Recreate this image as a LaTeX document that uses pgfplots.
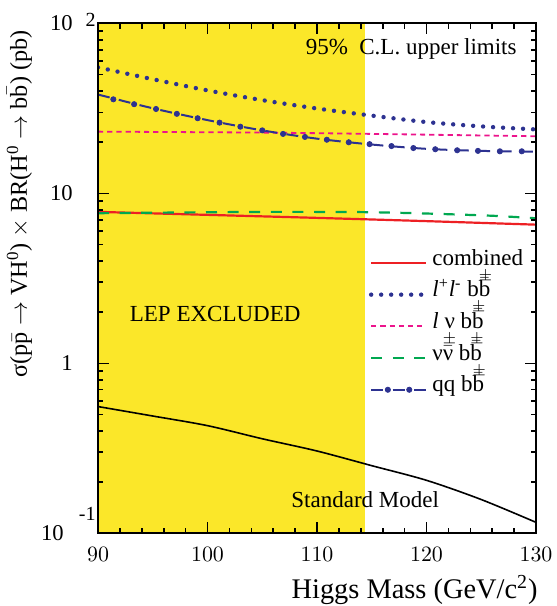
\documentclass[border=0pt]{standalone}
\usepackage{fontspec}
\setmainfont{Liberation Serif}
\usepackage{amsmath}
\usepackage{pgfplots}
\pgfplotsset{compat=1.18}

\definecolor{lepyellow}{RGB}{251,231,41}
\definecolor{cdfred}{RGB}{237,32,36}
\definecolor{cdfblue}{RGB}{45,50,145}
\definecolor{cdfpink}{RGB}{236,20,140}
\definecolor{cdfgreen}{RGB}{0,168,80}

% b bbar with a small +- sitting on the bar
\newcommand{\pmover}[1]{\makebox[0pt][l]{\raisebox{0.72em}[0pt][0pt]{\fontsize{8}{8}\selectfont$\pm$}}$\bar{\text{#1}}$}
\newcommand{\bpm}{b\pmover{b}}
\newcommand{\smallfont}{\fontsize{11.5}{13}\selectfont}

\begin{document}
\begin{tikzpicture}
\begin{axis}[
    scale only axis,
    width=219pt, height=254.9pt,
    ymode=log,
    xmin=90, xmax=130, ymin=0.1, ymax=100,
    xtick={90,100,110,120,130},
    minor xtick={92,94,96,98,102,104,106,108,112,114,116,118,122,124,126,128},
    ytick={0.1,1,10,100},
    yticklabels={
        10\makebox[16pt][r]{\raisebox{10pt}[0pt][0pt]{\fontsize{10}{10}\selectfont -1}},
        1\makebox[11.5pt]{},
        10\makebox[11.5pt]{},
        10\makebox[11.5pt][r]{\raisebox{2pt}[0pt][0pt]{\fontsize{10}{10}\selectfont 2}}},
    minor ytick={0.2,0.3,0.4,0.5,0.6,0.7,0.8,0.9,2,3,4,5,6,7,8,9,20,30,40,50,60,70,80,90},
    tick align=inside,
    major tick length=5.5pt, minor tick length=2.7pt,
    every outer x axis line/.append style={line width=1pt},
    every outer y axis line/.append style={line width=1pt},
    tick style={black, line width=0.8pt},
    axis on top,
    ticklabel style={font=\fontsize{11.3}{13}\selectfont},
    xticklabel style={yshift=-3.5pt},
    yticklabel style={inner xsep=1pt},
    xlabel={Higgs Mass (GeV/c\textsuperscript{2})},
    xlabel style={font=\fontsize{14.2}{16}\selectfont, at={(rel axis cs:1,0)}, anchor=north east, inner sep=0pt, yshift=-20.8pt, xshift=1pt},
    ylabel={σ(p$\bar{\text{p}}$ $\rightarrow$ VH\textsuperscript{0}) $\times$ BR(H\textsuperscript{0} $\rightarrow$ b$\bar{\text{b}}$) (pb)},
    ylabel style={font=\fontsize{12.1}{14}\selectfont, at={(ticklabel cs:1)}, anchor=south east},
    legend cell align=left,
    legend style={draw=none, fill=none, at={(rel axis cs:0.604,0.57)}, anchor=north west,
        font=\smallfont, nodes={text height=9pt, text depth=6.85pt, inner ysep=0pt}},
    legend image code/.code={\draw[#1] (0pt,0pt) -- (27.5pt,0pt);},
]
% LEP excluded region
\addplot[draw=none, fill=lepyellow, forget plot] coordinates {(90,0.1) (90,100) (114.4,100) (114.4,0.1)} -- cycle;

\addplot[cdfred, line width=1.1pt, smooth] coordinates {
(90,7.79) (100,7.48) (110,7.18) (120,6.87) (130,6.55)};
\addlegendentry{combined}

\addplot[cdfblue, line width=2.2pt, line cap=round, dash pattern=on 0pt off 5pt, smooth] coordinates {
(90,55.2) (95,47) (100,40.4) (105,35.4) (110,31.6) (115,28.7) (120,26.3) (125,24.8) (130,23.8)};
\addlegendentry{\textit{l}\textsuperscript{+}\textit{l}\textsuperscript{-} \bpm}

\addplot[cdfpink, line width=0.9pt, dash pattern=on 2.6pt off 2pt, smooth] coordinates {
(90,23.1) (105,22.8) (115,22.4) (130,21.7)};
\addlegendentry{\textit{l} ν \bpm}

\addplot[cdfgreen, line width=1.1pt, dash pattern=on 5.5pt off 5.3pt, smooth] coordinates {
(90,7.65) (95,7.7) (100,7.75) (106,7.79) (112,7.78) (115,7.75) (119,7.65) (123,7.51) (126.4,7.37) (130,7.14)};
\addlegendentry{ν\pmover{ν} \bpm}

% qq: dashed line and its dots
\addplot[cdfblue, line width=1pt, dash pattern=on 6pt off 4.7pt, smooth, forget plot] coordinates {
(90,38.2) (95,31.7) (100,27.0) (105,23.5) (110,21.0) (115,19.4) (120,18.3) (125,17.8) (130,17.6)};
\addplot[cdfblue, only marks, mark=*, mark size=1.3pt,
    legend image code/.code={
        \draw[cdfblue, line width=1pt, dash pattern=on 6pt off 4.7pt] (0pt,0pt) -- (27.5pt,0pt);
        \fill[cdfblue] (8.35pt,0pt) circle (1.3pt);
        \fill[cdfblue] (19.05pt,0pt) circle (1.3pt);}] coordinates {
(91.4,35.8) (93.3,33.5) (95.3,31.4) (97.2,29.4) (99.1,27.7) (101.1,26.1) (103.0,24.7) (105.0,23.5)
(106.9,22.4) (108.9,21.5) (110.9,20.7) (112.9,20.0) (114.8,19.5) (116.8,19.0) (118.8,18.5)
(120.8,18.2) (122.8,17.95) (124.7,17.8) (126.7,17.7) (128.7,17.7)};
\addlegendentry{qq \bpm}

\addplot[black, line width=0.8pt, smooth, forget plot] coordinates {
(90,0.557) (95,0.49) (100,0.43) (105,0.36) (110,0.305) (115,0.25) (120,0.205) (125,0.158) (130,0.116)};

% tick marks on all four sides
\pgfplotsinvokeforeach{0.1,1,10,100}{
    \draw[black, line width=0.8pt] (axis cs:90,#1) -- ++(5.5pt,0pt);
    \draw[black, line width=0.8pt] (axis cs:130,#1) -- ++(-5.5pt,0pt);}
\pgfplotsinvokeforeach{0.2,0.3,0.4,0.5,0.6,0.7,0.8,0.9,2,3,4,5,6,7,8,9,20,30,40,50,60,70,80,90}{
    \draw[black, line width=0.8pt] (axis cs:90,#1) -- ++(2.7pt,0pt);
    \draw[black, line width=0.8pt] (axis cs:130,#1) -- ++(-2.7pt,0pt);}
\pgfplotsinvokeforeach{90,100,110,120,130}{
    \draw[black, line width=0.8pt] (axis cs:#1,0.1) -- ++(0pt,4.5pt);
    \draw[black, line width=0.8pt] (axis cs:#1,100) -- ++(0pt,-4.5pt);}
\pgfplotsinvokeforeach{92,94,96,98,102,104,106,108,112,114,116,118,122,124,126,128}{
    \draw[black, line width=0.8pt] (axis cs:#1,0.1) -- ++(0pt,2.2pt);
    \draw[black, line width=0.8pt] (axis cs:#1,100) -- ++(0pt,-2.2pt);}

\node[font=\smallfont] at (axis cs:118.6,70.5) {95\%\ \ C.L. upper limits};
\node[font=\smallfont] at (axis cs:100.7,1.96) {LEP EXCLUDED};
\node[font=\smallfont] at (axis cs:114.4,0.157) {Standard Model};
\end{axis}
\pgfresetboundingbox
\path[use as bounding box] ([shift={(-49pt,-36.35pt)}]current axis.south west) rectangle ([shift={(10.5pt,11.75pt)}]current axis.north east);
\end{tikzpicture}
\end{document}
